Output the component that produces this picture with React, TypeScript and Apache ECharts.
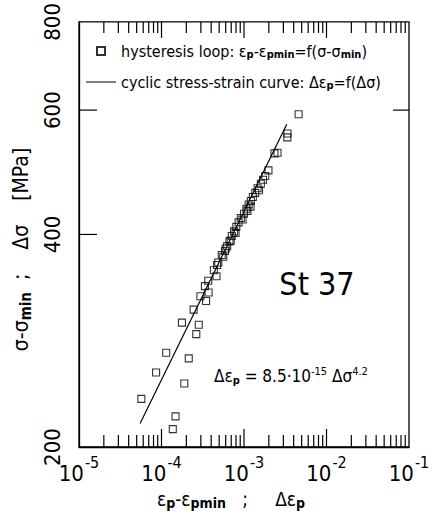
import React, { useEffect, useRef } from 'react';
import * as echarts from 'echarts';

// ---- data ----
const loopStrain = [
  4.59e-3, 3.37e-3, 3.35e-3, 2.55e-3, 2.34e-3, 1.98e-3, 1.81e-3, 1.70e-3, 1.60e-3, 1.52e-3,
  1.46e-3, 1.37e-3, 1.28e-3, 1.21e-3, 1.20e-3, 1.14e-3, 1.10e-3, 1.07e-3, 1.00e-3, 9.6e-4,
  9.15e-4, 8.6e-4, 8.07e-4, 7.9e-4, 7.57e-4, 7.11e-4, 6.9e-4, 6.67e-4, 6.25e-4, 6.0e-4,
  5.88e-4, 5.6e-4, 5.37e-4, 4.88e-4, 4.72e-4, 4.31e-4, 4.64e-4, 3.69e-4, 3.36e-4, 3.72e-4,
  2.96e-4, 3.47e-4, 2.45e-4, 1.77e-4, 2.83e-4, 2.64e-4, 1.14e-4, 2.14e-4, 8.6e-5, 1.89e-4,
  5.7e-5, 1.48e-4, 1.37e-4,
];
const loopStress = [
  592, 556, 549, 522, 521, 493, 484, 478, 472, 462,
  465, 458, 452, 446, 438, 441, 432, 435, 428, 420,
  422, 416, 410, 402, 404, 398, 392, 391, 385, 382,
  379, 372, 374, 365, 362, 356, 349, 344, 338, 331,
  327, 322, 313, 300, 298, 289, 272, 267, 255, 246,
  234, 221, 212,
];
const curveStrain = [5.5e-5, 3.3e-3];
const curveStress = [216, 573];

const X_MIN = 1e-5;
const X_MAX = 1e-1;
const Y_MIN = 200;
const Y_MAX = 800;
const xLabelValues = [1e-5, 1e-4, 1e-3, 1e-2, 1e-1];
const xMajorTicks = [1e-4, 1e-3, 1e-2];
const xMinorTicks = [
  2e-5, 3e-5, 4e-5, 5e-5, 6e-5, 7e-5, 8e-5, 9e-5,
  2e-4, 3e-4, 4e-4, 5e-4, 6e-4, 7e-4, 8e-4, 9e-4,
  2e-3, 3e-3, 4e-3, 5e-3, 6e-3, 7e-3, 8e-3, 9e-3,
  2e-2, 3e-2, 4e-2, 5e-2, 6e-2, 7e-2, 8e-2, 9e-2,
];
const yLabelValues = [200, 400, 600, 800];
const yLeftTicks = [400, 600];
const yRightTicks = [600];

const INK = '#000000';
const FONT = "'Liberation Sans Narrow', 'DejaVu Sans Condensed', 'Liberation Sans', sans-serif";

const richBase = (size: number, sub: number) => ({
  t: { fontFamily: FONT, fontSize: size, color: INK },
  s: { fontFamily: FONT, fontSize: sub, fontWeight: 'bold', color: INK, padding: [Math.round(size * 0.45), 0, 0, 0] },
  u: { fontFamily: FONT, fontSize: sub, color: INK, padding: [0, 0, Math.round(size * 0.55), 0] },
});

const legendText: Record<string, string> = {
  loop: '{t|hysteresis loop: ε}{s|p}{t|-ε}{s|pmin}{t|=f(σ-σ}{s|min}{t|)}',
  curve: '{t|cyclic stress-strain curve: Δε}{s|p}{t|=f(Δσ)}',
};

const textGraphics = [
  {
    type: 'text',
    x: 317,
    y: 284,
    style: { text: 'St 37', fontFamily: FONT, fontSize: 32, fill: INK, align: 'center', verticalAlign: 'middle' },
  },
  {
    type: 'text',
    x: 214,
    y: 376,
    style: {
      text: '{t|Δε}{s|p}{t| = 8.5·10}{u|-15}{t| Δσ}{u|4.2}',
      rich: richBase(17, 11),
      verticalAlign: 'middle',
      align: 'left',
    },
  },
];

export default function App() {
  const ref = useRef<HTMLDivElement>(null);
  useEffect(() => {
    const chart = echarts.init(ref.current!, undefined, { renderer: 'svg' });
    const option: any = {
      animation: false,
      grid: { left: 79, top: 18, width: 330, height: 429 },
      xAxis: {
        type: 'log',
        min: X_MIN,
        max: X_MAX,
        axisLine: { show: true, lineStyle: { color: INK, width: 1.3 } },
        axisTick: { show: false },
        splitLine: { show: false },
        axisLabel: {
          show: true,
          customValues: xLabelValues,
          margin: 7,
          formatter: (v: number) => `{b|10}{u|${Math.round(Math.log10(v))}}`,
          rich: {
            b: { fontFamily: FONT, fontSize: 22, color: INK },
            u: { fontFamily: FONT, fontSize: 16, color: INK, padding: [0, 0, 22, 1] },
          },
        },
        name: '{t|ε}{s|p}{t|-ε}{s|pmin}{t|   ;     Δε}{s|p}',
        nameLocation: 'middle',
        nameGap: 40,
        nameTextStyle: { rich: richBase(19, 14), padding: [0, 26, 0, 0] },
      },
      yAxis: {
        type: 'log',
        min: Y_MIN,
        max: Y_MAX,
        axisLine: { show: true, lineStyle: { color: INK, width: 1.3 } },
        axisTick: { show: false },
        splitLine: { show: false },
        axisLabel: {
          show: true,
          customValues: yLabelValues,
          rotate: 90,
          margin: 16,
          fontFamily: FONT,
          fontSize: 22,
          color: INK,
        },
        name: '{t|σ-σ}{s|min}{t|  ;    Δσ    [MPa]}',
        nameLocation: 'middle',
        nameRotate: 90,
        nameGap: 30,
        nameTextStyle: { rich: richBase(21, 15), padding: [0, 30, 0, 0] },
      },
      legend: {
        show: true,
        orient: 'vertical',
        left: 81,
        top: 38,
        itemWidth: 30,
        itemHeight: 8,
        itemGap: 14,
        selectedMode: false,
        data: [
          { name: 'loop', icon: 'path://M0,0h8v8h-8z' },
          { name: 'curve', icon: 'path://M0,0h30v1h-30z' },
        ],
        formatter: (name: string) => legendText[name],
        textStyle: { rich: richBase(16, 11) },
      },
      series: [
        {
          name: 'curve',
          type: 'line',
          symbol: 'none',
          lineStyle: { color: INK, width: 1.2 },
          itemStyle: { color: INK },
          data: curveStrain.map((x, i) => [x, curveStress[i]]),
        },
        {
          name: 'loop',
          type: 'scatter',
          symbol: 'rect',
          symbolSize: 7,
          itemStyle: { color: 'rgba(255,255,255,0)', borderColor: INK, borderWidth: 1.1 },
          data: loopStrain.map((x, i) => [x, loopStress[i]]),
        },
      ],
      graphic: { elements: textGraphics },
    };
    chart.setOption(option);

    // frame and tick marks, placed through the chart's own log scales
    try {
      const px = (x: number, y: number) => chart.convertToPixel({ gridIndex: 0 } as any, [x, y]) as number[];
      const els: any[] = [];
      const line = (x1: number, y1: number, x2: number, y2: number) => ({
        type: 'line',
        silent: true,
        z: 10,
        shape: { x1, y1, x2, y2 },
        style: { stroke: INK, lineWidth: 1.2 },
      });
      const tl = px(X_MIN, Y_MAX);
      const br = px(X_MAX, Y_MIN);
      els.push({
        type: 'rect',
        silent: true,
        z: 10,
        shape: { x: tl[0], y: tl[1], width: br[0] - tl[0], height: br[1] - tl[1] },
        style: { fill: 'none', stroke: INK, lineWidth: 1.3 },
      });
      xMinorTicks.forEach((v) => {
        const b = px(v, Y_MIN);
        const t = px(v, Y_MAX);
        els.push(line(b[0], b[1], b[0], b[1] - 12));
        els.push(line(t[0], t[1], t[0], t[1] + 11));
      });
      xMajorTicks.forEach((v) => {
        const b = px(v, Y_MIN);
        const t = px(v, Y_MAX);
        els.push(line(b[0], b[1], b[0], b[1] - 18));
        els.push(line(t[0], t[1], t[0], t[1] + 16));
      });
      yLeftTicks.forEach((v) => {
        const p = px(X_MIN, v);
        els.push(line(p[0], p[1], p[0] + 18, p[1]));
      });
      yRightTicks.forEach((v) => {
        const p = px(X_MAX, v);
        els.push(line(p[0], p[1], p[0] - 16, p[1]));
      });
      chart.setOption({ graphic: { elements: [...textGraphics, ...els] } });
    } catch (e) {
      // keep the base chart if the frame could not be placed
    }
    return () => chart.dispose();
  }, []);
  return (
    <div
      ref={ref}
      style={{ position: 'fixed', left: 0, top: 0, width: 439, height: 526, background: '#fff' }}
    />
  );
}
